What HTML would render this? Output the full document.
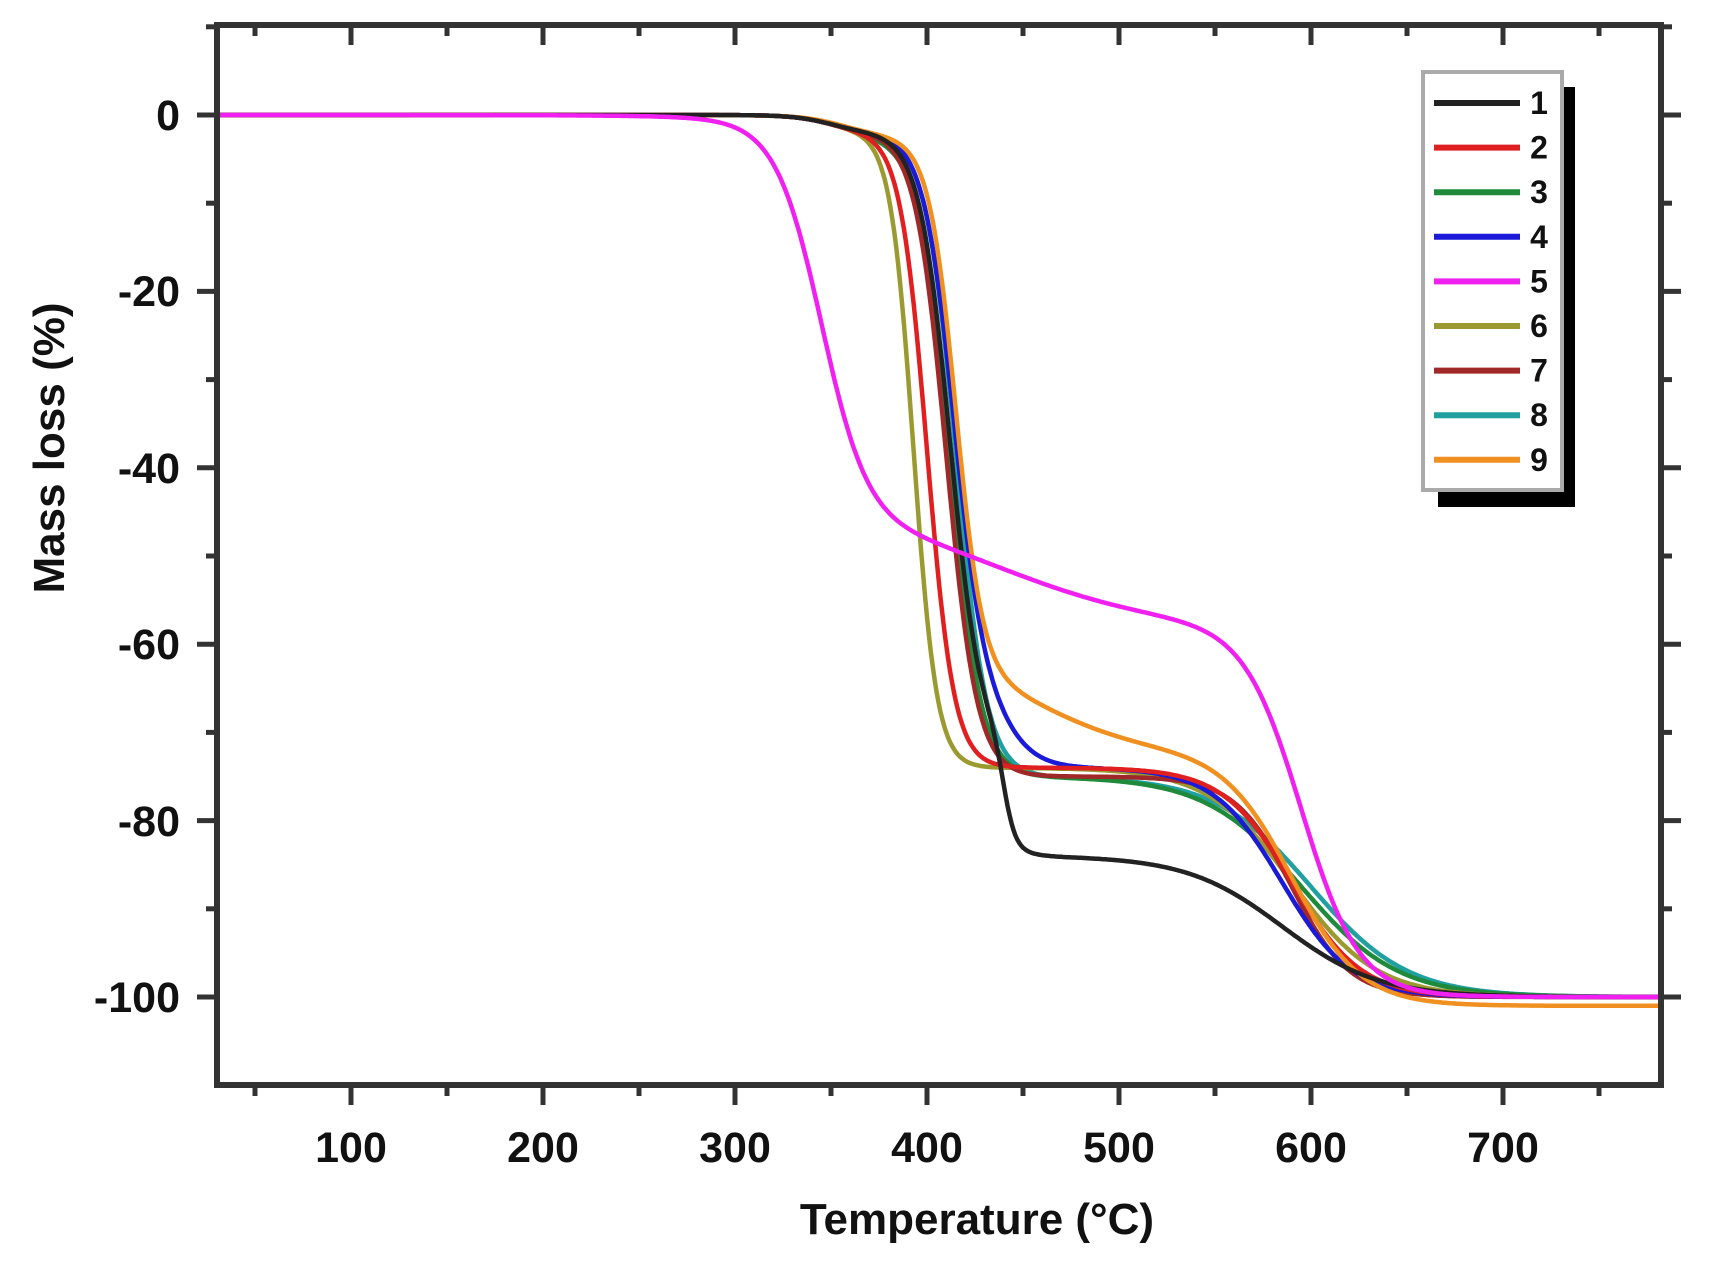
<!DOCTYPE html>
<html><head><meta charset="utf-8"><style>
html,body{margin:0;padding:0;background:#fff}
svg{display:block}
text{font-family:"Liberation Sans",Arial,sans-serif;font-weight:bold;fill:#111}
</style></head><body>
<svg id="s" width="1712" height="1267" viewBox="0 0 1712 1267" xmlns="http://www.w3.org/2000/svg">
<g id="curves" fill="none" stroke-width="4.5" stroke-linejoin="round"></g>
<g id="axes" stroke="#333" stroke-width="6" fill="none">
<rect x="217" y="25" width="1444" height="1060"/>
</g>
<g id="ticks" stroke="#333" stroke-width="5"></g>
<g font-size="43" text-anchor="end">
<text x="180" y="130">0</text>
<text x="180" y="306">-20</text>
<text x="180" y="483">-40</text>
<text x="180" y="659">-60</text>
<text x="180" y="836">-80</text>
<text x="180" y="1012">-100</text>
</g>
<g font-size="43" text-anchor="middle">
<text x="351" y="1162">100</text>
<text x="543" y="1162">200</text>
<text x="735" y="1162">300</text>
<text x="927" y="1162">400</text>
<text x="1119" y="1162">500</text>
<text x="1311" y="1162">600</text>
<text x="1503" y="1162">700</text>
</g>
<text x="977" y="1234" font-size="44" text-anchor="middle">Temperature (°C)</text>
<text transform="translate(64,448) rotate(-90)" font-size="44" text-anchor="middle">Mass loss (%)</text>
<rect x="1438" y="87" width="137" height="420" fill="#000"/>
<rect x="1423" y="72" width="139" height="418" fill="#fff" stroke="#aaa" stroke-width="4"/>
<g id="leg" stroke-width="6"></g>
<g id="legt" font-size="32" text-anchor="middle" style="fill:#555"></g>
</svg>
<script>
var X=function(T){return 351+(T-100)*1.92;};
var Y=function(v){return 115-v*8.82;};
var sg=function(z){return 1/(1+Math.exp(-z));};
function mk(parts,lim){return function(T){var m=0;parts.forEach(function(p){m+=p[0]*sg((T-p[1])/p[2]);});return -Math.min(m,lim||100);};}
var series=[
["#222",mk([[2,350,10],[70,412,8],[12,440,3],[16,585,25]])],
["#e02020",mk([[2,350,10],[72,400,7],[26,590,18]])],
["#1e8a3a",mk([[3,360,12],[72,412,8],[25,595,25]])],
["#1a1ad8",mk([[2,350,10],[64,414,8],[8,440,10],[26,585,18]])],
["#f020f0",mk([[45,345,12],[13,440,40],[42,595,15]])],
["#9a9a30",mk([[2,350,10],[72,393,6],[26,590,22]])],
["#a02828",mk([[2,350,10],[73,410,8],[25,590,15]])],
["#20a0a0",mk([[2,350,10],[73,415,8],[25,600,25]])],
["#f09020",mk([[2,355,10],[60,415,7],[10,460,25],[29,590,18]],101)]
];
var ns="http://www.w3.org/2000/svg";
var g=document.getElementById("curves");
var order=[7,2,5,6,3,1,8,0,4];
order.forEach(function(i){var s=series[i];var d="";for(var T=30;T<=782;T+=1){d+=(T==30?"M":"L")+X(T).toFixed(1)+","+Y(s[1](T)).toFixed(1);}
var p=document.createElementNS(ns,"path");p.setAttribute("d",d);p.setAttribute("stroke",s[0]);g.appendChild(p);});
var tk=document.getElementById("ticks");
function ln(x1,y1,x2,y2){var l=document.createElementNS(ns,"line");l.setAttribute("x1",x1);l.setAttribute("y1",y1);l.setAttribute("x2",x2);l.setAttribute("y2",y2);tk.appendChild(l);}
for(var T=50;T<=750;T+=50){var x=X(T);var maj=(T%100==0);ln(x,1085,x,1085+(maj?20:11));ln(x,25,x,25+(maj?20:11));}
for(var v=10;v>=-110;v-=10){var y=Y(v);if(y<26||y>1084)continue;var maj=(v%20==0);ln(217,y,217-(maj?20:11),y);ln(1661,y,1661+(maj?20:11),y);}
var lg=document.getElementById("leg"),lt=document.getElementById("legt");
for(var i=0;i<9;i++){var y=103+i*44.6;var l=document.createElementNS(ns,"line");l.setAttribute("x1",1434);l.setAttribute("x2",1520);l.setAttribute("y1",y);l.setAttribute("y2",y);l.setAttribute("stroke",series[i][0]);lg.appendChild(l);
var t=document.createElementNS(ns,"text");t.setAttribute("x",1539);t.setAttribute("y",y+11);t.textContent=String(i+1);lt.appendChild(t);}
</script>
</body></html>
